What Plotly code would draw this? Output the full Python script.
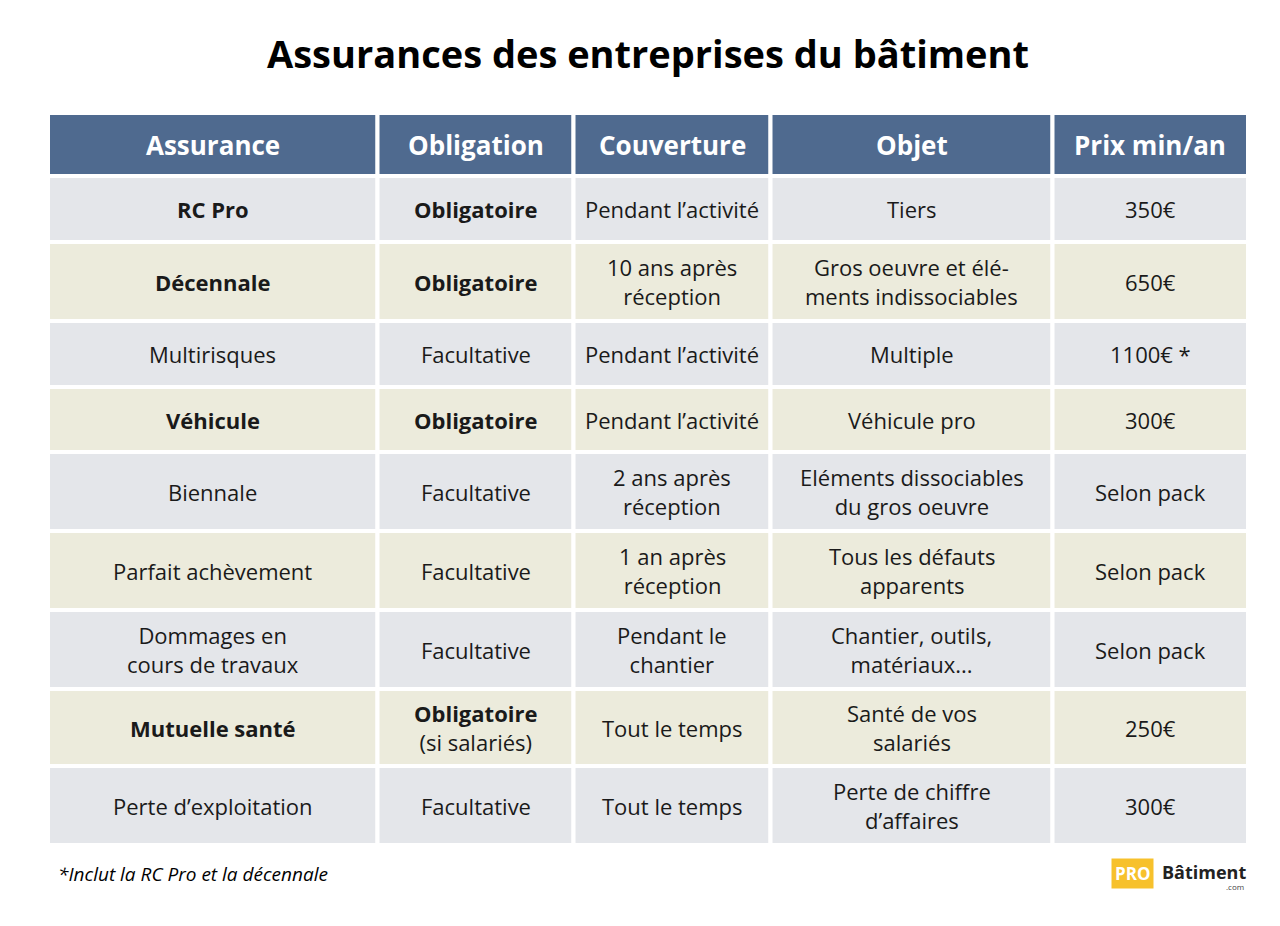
import numpy as np
import plotly.graph_objects as go

headers = ["Assurance", "Obligation", "Couverture", "Objet", "Prix min/an"]
assurance = ["<b>RC Pro</b>", "<b>Décennale</b>", "Multirisques", "<b>Véhicule</b>", "Biennale",
             "Parfait achèvement", "Dommages en<br>cours de travaux", "<b>Mutuelle santé</b>",
             "Perte d’exploitation"]
obligation = ["<b>Obligatoire</b>", "<b>Obligatoire</b>", "Facultative", "<b>Obligatoire</b>", "Facultative",
              "Facultative", "Facultative", "<b>Obligatoire</b><br>(si salariés)", "Facultative"]
couverture = ["Pendant l’activité", "10 ans après<br>réception", "Pendant l’activité", "Pendant l’activité",
              "2 ans après<br>réception", "1 an après<br>réception", "Pendant le<br>chantier",
              "Tout le temps", "Tout le temps"]
objet = ["Tiers", "Gros oeuvre et élé-<br>ments indissociables", "Multiple", "Véhicule pro",
         "Eléments dissociables<br>du gros oeuvre", "Tous les défauts<br>apparents",
         "Chantier, outils,<br>matériaux...", "Santé de vos<br>salariés", "Perte de chiffre<br>d’affaires"]
prix = ["350€", "650€", "1100€ *", "300€", "Selon pack", "Selon pack", "Selon pack", "250€", "300€"]

# layout (pixel units on hidden axes)
col_widths = [329.5, 196, 197, 282, 195.5]
header_h = 63
row_heights = [66, 79, 66, 65, 79, 79, 79, 77, 79]
x_edges = 40 + np.concatenate([[0], np.cumsum(col_widths)])
y_edges = 105 + header_h + np.concatenate([[0], np.cumsum(row_heights)])

FONT = "Open Sans"
columns = [assurance, obligation, couverture, objet, prix]

fig = go.Figure()
for j, h in enumerate(headers):
    fig.add_shape(type="rect", x0=x_edges[j], x1=x_edges[j + 1], y0=105, y1=105 + header_h,
                  fillcolor="#4f6a8f", line=dict(color="white", width=4), layer="below")
    fig.add_annotation(x=(x_edges[j] + x_edges[j + 1]) / 2, y=105 + header_h / 2, text=f"<b>{h}</b>",
                       showarrow=False, font=dict(family=FONT, size=26, color="white"))
for i in range(len(assurance)):
    fill = "#e4e6ea" if i % 2 == 0 else "#ecebdc"
    for j, col in enumerate(columns):
        fig.add_shape(type="rect", x0=x_edges[j], x1=x_edges[j + 1], y0=y_edges[i], y1=y_edges[i + 1],
                      fillcolor=fill, line=dict(color="white", width=4), layer="below")
        fig.add_annotation(x=(x_edges[j] + x_edges[j + 1]) / 2, y=(y_edges[i] + y_edges[i + 1]) / 2,
                           text=col[i], showarrow=False,
                           font=dict(family=FONT, size=22, color="#1a1a1a"))

fig.add_annotation(text="<b>Assurances des entreprises du bâtiment</b>", x=640, y=45,
                   showarrow=False, font=dict(family=FONT, size=38, color="black"))
fig.add_annotation(text="<i>*Inclut la RC Pro et la décennale</i>", x=48, y=866,
                   xanchor="left", showarrow=False, font=dict(family=FONT, size=19, color="black"))
fig.add_annotation(text="<b>PRO</b>", x=1124, y=865, showarrow=False, bgcolor="#f7c12c",
                   borderpad=3, font=dict(family=FONT, size=17, color="white"))
fig.add_annotation(text="<b>Bâtiment</b>", x=1152, y=864, xanchor="left", showarrow=False,
                   font=dict(family=FONT, size=18, color="#222"))
fig.add_annotation(text=".com", x=1238, y=878, xanchor="right", showarrow=False,
                   font=dict(family=FONT, size=8, color="#444"))

fig.update_xaxes(range=[0, 1280], visible=False, fixedrange=True)
fig.update_yaxes(range=[926, 0], visible=False, fixedrange=True)
fig.update_layout(width=1280, height=926, margin=dict(l=0, r=0, t=0, b=0),
                  paper_bgcolor="white", plot_bgcolor="white", showlegend=False)
fig.write_html("out.html")
